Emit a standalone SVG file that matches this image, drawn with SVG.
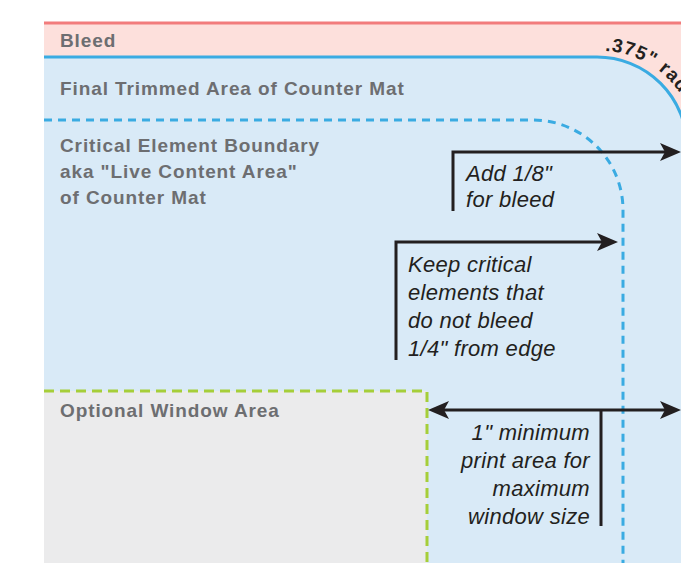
<svg xmlns="http://www.w3.org/2000/svg" width="681" height="563" viewBox="0 0 681 563">
<defs>
<style>
.lbl{font-family:"Liberation Sans",Arial,sans-serif;font-weight:bold;font-size:19px;letter-spacing:0.9px;fill:#6d6e71}
.note{font-family:"Liberation Sans",Arial,sans-serif;font-style:italic;font-size:22px;letter-spacing:0.3px;fill:#231f20}
.arr{stroke:#231f20;stroke-width:3;fill:none}
</style>
<marker id="ah" markerUnits="userSpaceOnUse" markerWidth="24" markerHeight="22" viewBox="-22 -11 24 22" refX="-10" refY="0" orient="auto-start-reverse">
<path d="M0,0 L-21,-9 L-16,0 L-21,9 Z" fill="#231f20"/>
</marker>
<path id="radArc" d="M605,51 A96 96 0 0 1 692,118"/>
</defs>
<rect width="681" height="563" fill="#ffffff"/>
<g id="bleed">
<rect x="44" y="23" width="637" height="540" fill="#fde0dc"/>
<line x1="44" y1="23" x2="681" y2="23" stroke="#f27c7c" stroke-width="3"/>
<text class="lbl" x="60" y="47">Bleed</text>
<text font-family="Liberation Sans,Arial,sans-serif" font-weight="bold" font-size="19" letter-spacing="1" fill="#231f20"><textPath href="#radArc">.375" rad</textPath></text>
</g>
<g id="trim">
<path d="M44,57 H597 A90 90 0 0 1 687,147 V563 H44 Z" fill="#d9eaf7"/>
<path d="M44,57 H597 A90 90 0 0 1 687,147" fill="none" stroke="#3aabe2" stroke-width="3"/>
<text class="lbl" x="60" y="95">Final Trimmed Area of Counter Mat</text>
</g>
<g id="critical">
<path d="M44,120 H533 A90 90 0 0 1 623,210 V563" fill="none" stroke="#3aabe2" stroke-width="3" stroke-dasharray="8 6"/>
<text class="lbl" x="60" y="152">Critical Element Boundary</text>
<text class="lbl" x="60" y="178">aka "Live Content Area"</text>
<text class="lbl" x="60" y="204">of Counter Mat</text>
</g>
<g id="window">
<rect x="44" y="391" width="383" height="172" fill="#ebebec"/>
<path d="M44,391 H427 V563" fill="none" stroke="#a6ce39" stroke-width="3" stroke-dasharray="10 6"/>
<text class="lbl" x="60" y="417">Optional Window Area</text>
</g>
<g id="connectors">
<path class="arr" d="M453,211 V152 H671" marker-end="url(#ah)"/>
<path class="arr" d="M396,360 V242 H608" marker-end="url(#ah)"/>
<line class="arr" x1="438" y1="410" x2="671" y2="410" marker-start="url(#ah)" marker-end="url(#ah)"/>
<line class="arr" x1="601" y1="410" x2="601" y2="526"/>
</g>
<g id="notes">
<text class="note" x="466" y="181">Add 1/8"</text>
<text class="note" x="466" y="207">for bleed</text>
<text class="note" x="408" y="272">Keep critical</text>
<text class="note" x="408" y="300">elements that</text>
<text class="note" x="408" y="328">do not bleed</text>
<text class="note" x="408" y="356">1/4" from edge</text>
<text class="note" x="590" y="440" text-anchor="end">1" minimum</text>
<text class="note" x="590" y="468" text-anchor="end">print area for</text>
<text class="note" x="590" y="496" text-anchor="end">maximum</text>
<text class="note" x="590" y="524" text-anchor="end">window size</text>
</g>
</svg>
